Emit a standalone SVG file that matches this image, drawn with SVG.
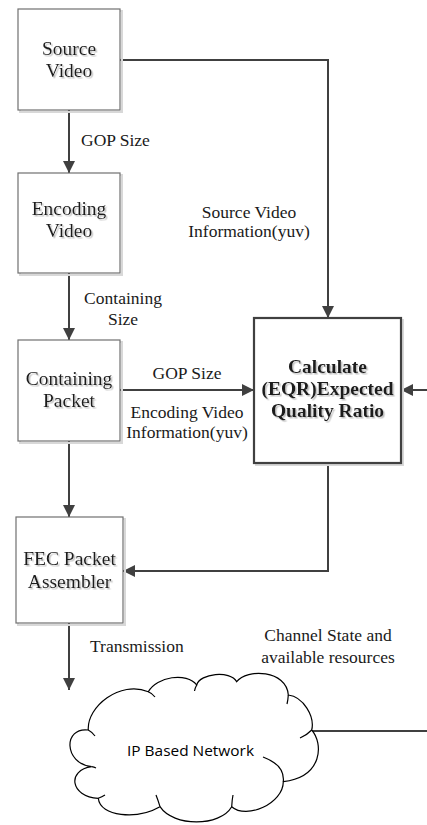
<svg xmlns="http://www.w3.org/2000/svg" width="427" height="825" viewBox="0 0 427 825">
<defs>
<marker id="ah" markerUnits="userSpaceOnUse" markerWidth="13" markerHeight="13" refX="12" refY="6.5" orient="auto">
<path d="M0,0.5 L12,6.5 L0,12.5 z" fill="#404040"/>
</marker>
<filter id="ts" x="-10%" y="-20%" width="130%" height="150%">
<feDropShadow dx="1.5" dy="1.5" stdDeviation="0.6" flood-color="#b0b0b0" flood-opacity="0.8"/>
</filter>
</defs>
<style>
.box{fill:#fff;stroke:#707070;stroke-width:1.2}
.shadow{fill:none;stroke:#d8d8d8;stroke-width:2}
.big{fill:#fff;stroke:#404040;stroke-width:2.2}
.bt{font-family:'Liberation Serif','DejaVu Serif','Times New Roman',serif;font-size:19.5px;fill:#1a1a1a;text-anchor:middle}
.bold{font-weight:bold}
.lbl{font-family:'Liberation Serif','DejaVu Serif','Times New Roman',serif;font-size:17.5px;fill:#1a1a1a}
.mid{text-anchor:middle}
.conn{fill:none;stroke:#404040;stroke-width:2}
.cloud{fill:#fff;stroke:#000;stroke-width:1.2}
.tick{fill:none;stroke:#000;stroke-width:1.2}
.ip{font-family:'Open Sans','Liberation Sans',sans-serif;font-size:14px;fill:#000}
</style>
<g id="connectors">
<path class="conn" d="M69,110 V173" marker-end="url(#ah)"/>
<path class="conn" d="M69,273 V340" marker-end="url(#ah)"/>
<path class="conn" d="M69,441 V517" marker-end="url(#ah)"/>
<path class="conn" d="M69,623 V690" marker-end="url(#ah)"/>
<path class="conn" d="M120,60 H328 V318" marker-end="url(#ah)"/>
<path class="conn" d="M120,390 H254" marker-end="url(#ah)"/>
<path class="conn" d="M427,390 H401" marker-end="url(#ah)"/>
<path class="conn" d="M328,463 V571 H123" marker-end="url(#ah)"/>
<path class="conn" d="M310,731 H427"/>
<g font-family="Liberation Serif, DejaVu Serif, serif">
<text class="lbl" x="81" y="146">GOP Size</text>
<text class="lbl mid" x="249" y="218">Source Video</text>
<text class="lbl mid" x="249" y="237">Information(yuv)</text>
<text class="lbl mid" x="123" y="304">Containing</text>
<text class="lbl mid" x="123" y="325">Size</text>
<text class="lbl mid" x="187" y="379">GOP Size</text>
<text class="lbl mid" x="187" y="418">Encoding Video</text>
<text class="lbl mid" x="187" y="438">Information(yuv)</text>
<text class="lbl" x="90" y="652">Transmission</text>
<text class="lbl mid" x="328" y="641">Channel State and</text>
<text class="lbl mid" x="328" y="663">available resources</text>
</g>
</g>
<g id="source-video">
<rect class="shadow" x="20" y="11" width="102" height="101"/>
<rect class="box" x="18" y="9" width="102" height="101"/>
<text class="bt" x="69" y="55" filter="url(#ts)">Source</text>
<text class="bt" x="69" y="77" filter="url(#ts)">Video</text>
</g>
<g id="encoding-video">
<rect class="shadow" x="20" y="175" width="102" height="100"/>
<rect class="box" x="18" y="173" width="102" height="100"/>
<text class="bt" x="69" y="215" filter="url(#ts)">Encoding</text>
<text class="bt" x="69" y="237" filter="url(#ts)">Video</text>
</g>
<g id="containing-packet">
<rect class="shadow" x="20" y="342" width="102" height="101"/>
<rect class="box" x="18" y="340" width="102" height="101"/>
<text class="bt" x="69" y="385" filter="url(#ts)">Containing</text>
<text class="bt" x="69" y="407" filter="url(#ts)">Packet</text>
</g>
<g id="calculate-eqr">
<rect class="shadow" x="256" y="320" width="147" height="145"/>
<rect class="big" x="254" y="318" width="147" height="145"/>
<text class="bt bold" x="327.5" y="373" filter="url(#ts)">Calculate</text>
<text class="bt bold" x="327.5" y="395" filter="url(#ts)">(EQR)Expected</text>
<text class="bt bold" x="327.5" y="417" filter="url(#ts)">Quality Ratio</text>
</g>
<g id="fec-packet-assembler">
<rect class="shadow" x="18" y="519" width="107" height="106"/>
<rect class="box" x="16" y="517" width="107" height="106"/>
<text class="bt" x="69.5" y="565" filter="url(#ts)">FEC Packet</text>
<text class="bt" x="69.5" y="588" filter="url(#ts)">Assembler</text>
</g>
<g id="ip-network">
<path class="cloud" d="M88.3,730 C86.7,706.7 120,680 148.3,691.7 C156.7,676.7 186.7,671.7 196.7,685 C200,673.3 230,670 236.7,681.7 C246.7,668.3 286.7,670 288.3,695 C303.3,696.7 315,716.7 311.7,730 C323.3,743.3 323.3,776.7 283.3,781.7 C283.3,803.3 246.7,820 231.7,806.7 C220,827 173.3,827 160,806.7 C136.7,820 100,816.7 98.3,798.3 C70,796.7 66.7,770 91.7,766.7 C63.3,763.3 63.3,726.7 88.3,730 Z"/>
<path class="tick" d="M88.3,730 Q92,732 95,736"/>
<path class="tick" d="M148.3,691.7 Q152,693 155,697"/>
<path class="tick" d="M196.7,685 Q195,688 194.5,691"/>
<path class="tick" d="M288.3,695 Q288,700 287,704"/>
<path class="tick" d="M311.7,730 Q307,735 300,738"/>
<path class="tick" d="M283.3,781.7 Q285,765 263,757"/>
<path class="tick" d="M231.7,806.7 Q232,800 233,795"/>
<path class="tick" d="M160,806.7 Q158,800 156,795"/>
<path class="tick" d="M98.3,798.3 Q102,797 105,795"/>
<path class="tick" d="M91.7,766.7 Q94,767 96,768"/>
<text class="ip" x="190.5" y="756" text-anchor="middle" textLength="127" lengthAdjust="spacingAndGlyphs">IP Based Network</text>
</g>
</svg>
